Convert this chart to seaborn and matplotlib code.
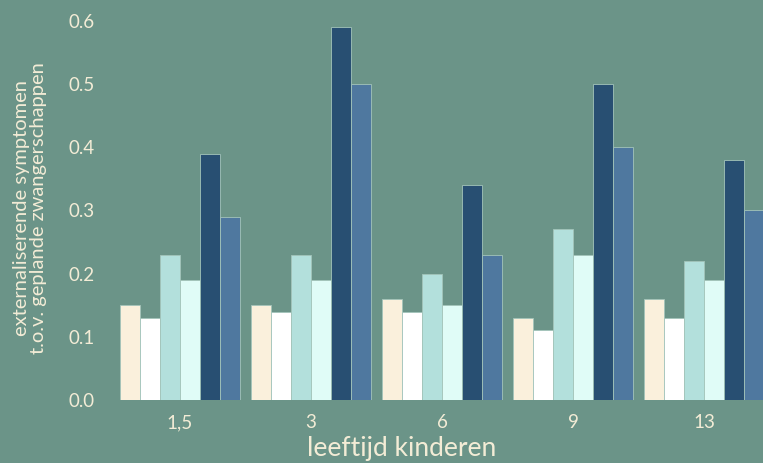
import matplotlib
matplotlib.use('Agg')
import matplotlib.pyplot as plt
import seaborn as sns
import pandas as pd

# data
ages = ['1,5', '3', '6', '9', '13']
series = ['s1', 's2', 's3', 's4', 's5', 's6']
values = {
    's1': [0.15, 0.15, 0.16, 0.13, 0.16],
    's2': [0.13, 0.14, 0.14, 0.11, 0.13],
    's3': [0.23, 0.23, 0.20, 0.27, 0.22],
    's4': [0.19, 0.19, 0.15, 0.23, 0.19],
    's5': [0.39, 0.59, 0.34, 0.50, 0.38],
    's6': [0.29, 0.50, 0.23, 0.40, 0.30],
}
colors = ['#faf0dc', '#ffffff', '#b3e0dc', '#e0fcf7', '#284f72', '#4f789f']

bg = '#6b9488'
txt = '#f3ecd6'

rows = []
for s in series:
    for a, v in zip(ages, values[s]):
        rows.append({'leeftijd': a, 'reeks': s, 'waarde': v})
df = pd.DataFrame(rows)

sns.set_style('white')
plt.rcParams['font.family'] = ['Lato', 'DejaVu Sans']

fig = plt.figure(figsize=(7.63, 4.63), dpi=100, facecolor=bg)
ax = fig.add_axes([114.5 / 763, 63 / 463, 655 / 763, 400 / 463])
ax.set_facecolor(bg)

sns.barplot(data=df, x='leeftijd', y='waarde', hue='reeks', order=ages,
            hue_order=series, palette=colors, saturation=1, width=0.92, ax=ax,
            edgecolor='#a3c4ba', linewidth=0.6, legend=False, errorbar=None)

ax.set_xlim(-0.5, 4.5)
ax.set_ylim(0, 0.633)
ax.set_yticks([0, 0.1, 0.2, 0.3, 0.4, 0.5, 0.6])
ax.set_yticklabels(['0.0', '0.1', '0.2', '0.3', '0.4', '0.5', '0.6'])
for s in ax.spines.values():
    s.set_visible(False)
ax.tick_params(axis='both', length=0, colors=txt, labelsize=13.5)
ax.tick_params(axis='y', pad=14)
ax.tick_params(axis='x', pad=10)

ax.set_xlabel('')
ax.set_ylabel('')
fig.text(402 / 763, 1 - 456 / 463, 'leeftijd kinderen', ha='center',
         va='baseline', color=txt, fontsize=19)
fig.text(30 / 763, 1 - 208 / 463,
         'externaliserende symptomen\nt.o.v. geplande zwangerschappen',
         rotation=90, ha='center', va='center', color=txt, fontsize=14.5,
         linespacing=1.05)

plt.savefig('out.png', dpi=100, facecolor=bg)
plt.close()
